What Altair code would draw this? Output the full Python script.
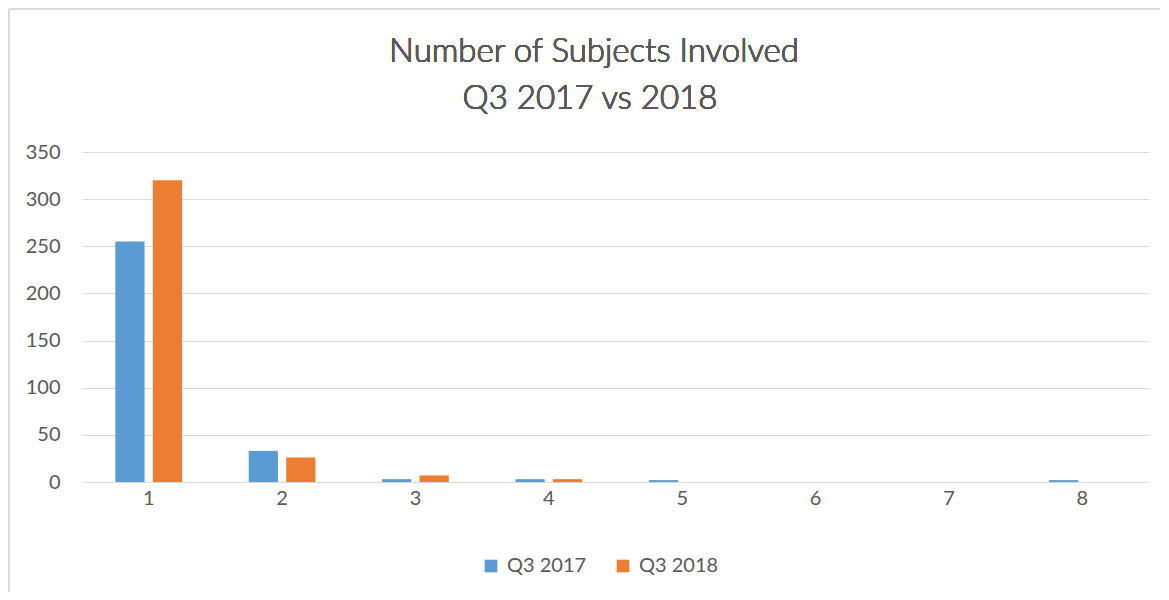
import altair as alt
import pandas as pd

categories = ["1", "2", "3", "4", "5", "6", "7", "8"]
series_names = ["Q3 2017", "Q3 2018"]
values_2017 = [255, 33, 3, 3, 2, 0, 0, 2]
values_2018 = [320, 26, 7, 3, 0, 0, 0, 0]
y_ticks = [0, 50, 100, 150, 200, 250, 300, 350]
title_lines = ["Number of Subjects Involved", "Q3 2017 vs 2018"]

rows = []
for c, a, b in zip(categories, values_2017, values_2018):
    rows.append({"cat": c, "series": series_names[0], "value": a})
    rows.append({"cat": c, "series": series_names[1], "value": b})
df = pd.DataFrame(rows)

W, H = 1067, 330
FONT = "Lato"
GRAY = "#595959"

bars = alt.Chart(df).mark_bar().encode(
    x=alt.X("cat:O", sort=categories,
            scale=alt.Scale(paddingInner=0.5, paddingOuter=0.25),
            axis=alt.Axis(title=None, labelAngle=0, ticks=False, domain=False,
                          labelPadding=6, labelFontSize=20, labelColor=GRAY,
                          labelFont=FONT)),
    xOffset=alt.XOffset("series:N", sort=series_names,
                        scale=alt.Scale(paddingInner=0.22)),
    y=alt.Y("value:Q", scale=alt.Scale(domain=[0, 350], nice=False),
            axis=alt.Axis(title=None, values=y_ticks, ticks=False, domain=False,
                          labelPadding=22, labelFontSize=20, labelColor=GRAY,
                          labelFont=FONT, gridColor="#D9D9D9")),
    color=alt.Color("series:N", sort=series_names,
                    scale=alt.Scale(domain=series_names, range=["#5B9BD5", "#ED7D31"]),
                    legend=alt.Legend(title=None, orient="none", legendX=399, legendY=404,
                                      direction="horizontal", symbolType="square",
                                      symbolSize=160, symbolStrokeWidth=0,
                                      labelFontSize=20, labelColor=GRAY, labelFont=FONT,
                                      columnPadding=26, labelOffset=6)),
)

title1 = alt.Chart(df).mark_text(fontSize=33, font=FONT, fontWeight=300, color=GRAY,
                                 align="center", baseline="middle").encode(
    x=alt.value(512), y=alt.value(-100), text=alt.value(title_lines[0])
)
title2 = alt.Chart(df).mark_text(fontSize=33, font=FONT, fontWeight=300, color=GRAY,
                                 align="center", baseline="middle").encode(
    x=alt.value(508), y=alt.value(-53), text=alt.value(title_lines[1])
)

border_left = alt.Chart(df).mark_rule(color="#D9D9D9", strokeWidth=2).encode(
    x=alt.value(-73), y=alt.value(-143), y2=alt.value(H + 110)
)
border_top = alt.Chart(df).mark_rule(color="#D9D9D9", strokeWidth=2).encode(
    x=alt.value(-73), x2=alt.value(W + 11), y=alt.value(-143)
)

chart = alt.layer(bars, title1, title2, border_left, border_top).properties(
    width=W, height=H,
    autosize=alt.AutoSizeParams(type="none"),
    padding={"left": 74, "top": 144, "right": 11, "bottom": 110},
).configure_view(stroke=None)

chart.save("out.html", embed_options={"renderer": "svg", "actions": False})
